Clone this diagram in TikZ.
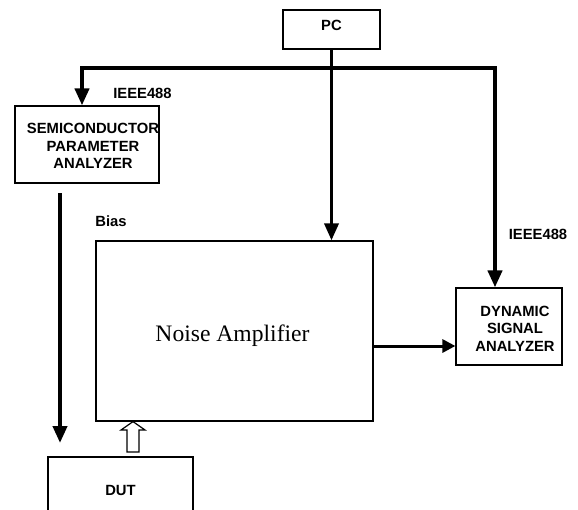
\documentclass[tikz,border=0pt]{standalone}
\usepackage{fontspec}
\setmainfont{Liberation Serif}
\setsansfont{Liberation Sans}
\usetikzlibrary{arrows.meta}
\tikzset{
  blk/.style={draw=black, line width=1.2pt, inner sep=0pt},
  lbl/.style={font=\fontsize{14.8}{17.5}\selectfont\sffamily\bfseries, align=center, inner sep=0pt},
  bus/.style={line width=4pt, -{Triangle[width=14pt,length=17pt]}},
  sig/.style={line width=3pt, -{Triangle[width=13pt,length=13pt]}},
  hollowarrow/.style={draw=black, line width=1.2pt, fill=white, line join=miter}
}
\begin{document}
\begin{tikzpicture}[x=1pt,y=-1pt]
\clip (0,0) rectangle (578,509);
\fill[white] (0,0) rectangle (578,509);

% blocks
\node[blk, minimum width=97pt, minimum height=39pt] (pc) at (331.5,29.5) {};
\node[lbl] (pct) at (331.5,25) {PC};

\node[blk, minimum width=144pt, minimum height=77pt] (spa) at (87,144.5) {};
\node[lbl] (spat) at (93,146) {SEMICONDUCTOR\\PARAMETER\\ANALYZER};

\node[blk, minimum width=277pt, minimum height=180pt] (na) at (234.5,331) {};
\node[font=\fontsize{23.6}{27}\selectfont, inner sep=0pt] (nat) at (232.5,336) {Noise Amplifier};

\node[blk, minimum width=106pt, minimum height=77pt] (dsa) at (509,326.5) {};
\node[lbl] (dsat) at (515,328.5) {DYNAMIC\\SIGNAL\\ANALYZER};

\node[blk, minimum width=145pt, minimum height=80pt] (dut) at (120.5,497) {};
\node[lbl] (dutt) at (120.5,490) {DUT};

% labels
\node[lbl] (ieeel) at (142.5,93) {IEEE488};
\node[lbl] (ieeer) at (538,234) {IEEE488};
\node[lbl] (bias) at (111,221) {Bias};

% IEEE488 bus from the PC
\coordinate (busL) at (82,68);
\coordinate (busR) at (495,68);
\draw[bus] (pc.south |- busL) -- (busL) -- (busL |- spa.north);
\draw[bus] (pc.south |- busR) -- (busR) -- (busR |- dsa.north);
\draw[bus, line width=3.5pt] (pc.south) -- (pc.south |- na.north);

% bias line to the DUT
\coordinate (biasTop) at (60,193);
\draw[bus] (biasTop) -- (biasTop |- 0,443);

% amplifier output to the analyzer
\draw[sig] (na.east |- 0,346) -- (dsa.west |- 0,346);

% DUT into the amplifier
\coordinate (hb) at (133,452);
\draw[hollowarrow] (hb) ++(-6,0) -- ++(0,-22) -- ++(-6,0) -- (hb |- na.south) -- (145,430) -- ++(-6,0) -- ++(0,22) -- cycle;
\end{tikzpicture}
\end{document}
